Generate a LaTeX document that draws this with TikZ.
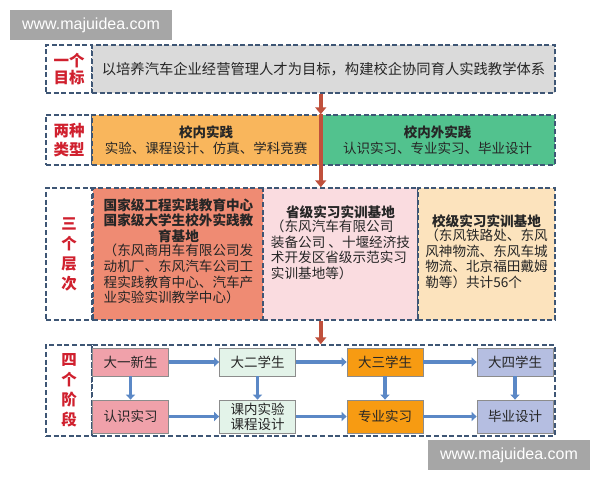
\documentclass[tikz,border=0pt]{standalone}
\usepackage{fontspec}
\setmainfont{Noto Sans CJK SC}
\newfontfamily\webfont{Liberation Sans}
\usepackage{tikz}
\usetikzlibrary{arrows.meta,positioning}
\definecolor{framecol}{HTML}{3E5675}
\definecolor{tagred}{HTML}{D0202E}
\definecolor{arrred}{HTML}{C0503C}
\definecolor{arrblue}{HTML}{5B88C6}
\definecolor{goalgray}{HTML}{DADADA}
\definecolor{inorange}{HTML}{F9B65C}
\definecolor{outgreen}{HTML}{52C28E}
\definecolor{natsalmon}{HTML}{EF8B73}
\definecolor{provpink}{HTML}{FADCE0}
\definecolor{schcream}{HTML}{FCE3BD}
\definecolor{yearpink}{HTML}{F0A1AA}
\definecolor{yeargreen}{HTML}{E3F3E9}
\definecolor{yearorange}{HTML}{F79B12}
\definecolor{yearblue}{HTML}{B5BEE1}
\definecolor{textgray}{HTML}{262626}
\tikzset{dashframe/.style={draw=framecol, dash pattern=on 5pt off 2.6pt, line width=1.5pt},
  tag/.style={dashframe, fill=white, text=tagred, font=\fontsize{15.5}{17}\selectfont\bfseries, align=center, minimum width=46, inner sep=0},
  tagv/.style={tag, font=\fontsize{15.5}{20}\selectfont\bfseries},
  cell/.style={dashframe, text=textgray, align=center, inner sep=0, font=\fontsize{13.5}{16}\selectfont},
  head/.style={text=textgray, align=center, inner sep=0, font=\fontsize{13.6}{15.6}\selectfont\bfseries},
  body/.style={text=textgray, align=left, inner sep=0, font=\fontsize{13.6}{15.6}\selectfont},
  stage/.style={draw=black!45, line width=0.8pt, text=textgray, minimum width=76, inner sep=0, align=center, font=\fontsize{13.5}{16}\selectfont},
  wmark/.style={fill=black!35, text=white, minimum width=162, minimum height=30, inner sep=0, font=\webfont\fontsize{16}{18}\selectfont}}
\tikzstyle{redarrow} = [arrred, line width=4.5pt, -{Triangle[width=11pt,length=7pt]}]
\tikzstyle{bluearrow} = [arrblue, line width=3.2pt, -{Triangle[width=9pt,length=5pt]}]

\begin{document}
\begin{tikzpicture}[x=1pt,y=-1pt]
\useasboundingbox (0,0) rectangle (600,480);
% 一个目标
\node[tag, minimum height=48] (g0) at (69,69) {一个\\目标};
\node[dashframe, fill=goalgray, minimum width=463, minimum height=48, text=textgray, font=\fontsize{14.3}{17}\selectfont] (goal) at (323.5,69) {以培养汽车企业经营管理人才为目标，构建校企协同育人实践教学体系};

% 两种类型
\node[tag, minimum height=50] (g1) at (69,140) {两种\\[2pt]类型};
\node[cell, fill=inorange, minimum width=228, minimum height=50] (inside) at (206,140) {\textbf{校内实践}\\实验、课程设计、仿真、学科竞赛};
\node[cell, fill=outgreen, minimum width=235, minimum height=50] (outside) at (437.5,140) {\textbf{校内外实践}\\认识实习、专业实习、毕业设计};

% 三个层次
\node[tagv, minimum height=132] (g2) at (69,254) {三\\个\\层\\次};
\node[dashframe, fill=natsalmon, minimum width=171, minimum height=132] (b3a) at (178.5,254) {};
\node[dashframe, fill=provpink, minimum width=155, minimum height=132] (b3b) at (340.5,254) {};
\node[dashframe, fill=schcream, minimum width=137, minimum height=132] (b3c) at (486.5,254) {};
\node[head, below=11pt of b3a.north] (h3a) {国家级工程实践教育中心\\国家级大学生校外实践教\\育基地};
\node[body, below=1pt of h3a] (t3a) {（东风商用车有限公司发\\动机厂、东风汽车公司工\\程实践教育中心、汽车产\\业实验实训教学中心）};
\node[head, below=18pt of b3b.north] (h3b) {省级实习实训基地};
\node[body, below=1pt of h3b] (t3b) {（东风汽车有限公司\\装备公司 、十堰经济技\\术开发区省级示范实习\\实训基地等）};
\node[head, below=27pt of b3c.north] (h3c) {校级实习实训基地};
\node[body, below=1pt of h3c] (t3c) {（东风铁路处、东风\\风神物流、东风车城\\物流、北京福田戴姆\\勒等）共计56个};

% 四个阶段
\node[tagv, minimum height=91] (g3) at (69,390.5) {四\\个\\阶\\段};
\node[dashframe, fill=white, minimum width=463, minimum height=91] (f4) at (323.5,390.5) {};
\node[stage, fill=yearpink, minimum height=28] (y1) at (130.5,362) {大一新生};
\node[stage, fill=yeargreen, minimum height=28] (y2) at (257.5,362) {大二学生};
\node[stage, fill=yearorange, minimum height=28] (y3) at (385,362) {大三学生};
\node[stage, fill=yearblue, minimum height=28] (y4) at (515,362) {大四学生};
\node[stage, fill=yearpink, minimum height=33] (p1) at (130.5,416.5) {认识实习};
\node[stage, fill=yeargreen, minimum height=33, font=\fontsize{13.5}{15}\selectfont] (p2) at (257.5,416.5) {课内实验\\课程设计};
\node[stage, fill=yearorange, minimum height=33] (p3) at (385,416.5) {专业实习};
\node[stage, fill=yearblue, minimum height=33] (p4) at (515,416.5) {毕业设计};
\draw[bluearrow] (y1) -- (y2);
\draw[bluearrow] (y2) -- (y3);
\draw[bluearrow] (y3) -- (y4);
\draw[bluearrow] (p1) -- (p2);
\draw[bluearrow] (p2) -- (p3);
\draw[bluearrow] (p3) -- (p4);
\draw[bluearrow] (y1) -- (p1);
\draw[bluearrow] (y2) -- (p2);
\draw[bluearrow] (y3) -- (p3);
\draw[bluearrow] (y4) -- (p4);

% 层与层之间的红色箭头
\draw[redarrow] (goal.south -| inside.east) -- (inside.north east);
\draw[redarrow] (inside.north east) -- (inside.north east |- b3b.north);
\draw[redarrow] (inside.east |- b3b.south) -- (inside.east |- f4.north);

% 水印
\node[wmark] (wm1) at (91,25) {www.majuidea.com};
\node[wmark] (wm2) at (509,455) {www.majuidea.com};
\end{tikzpicture}
\end{document}
